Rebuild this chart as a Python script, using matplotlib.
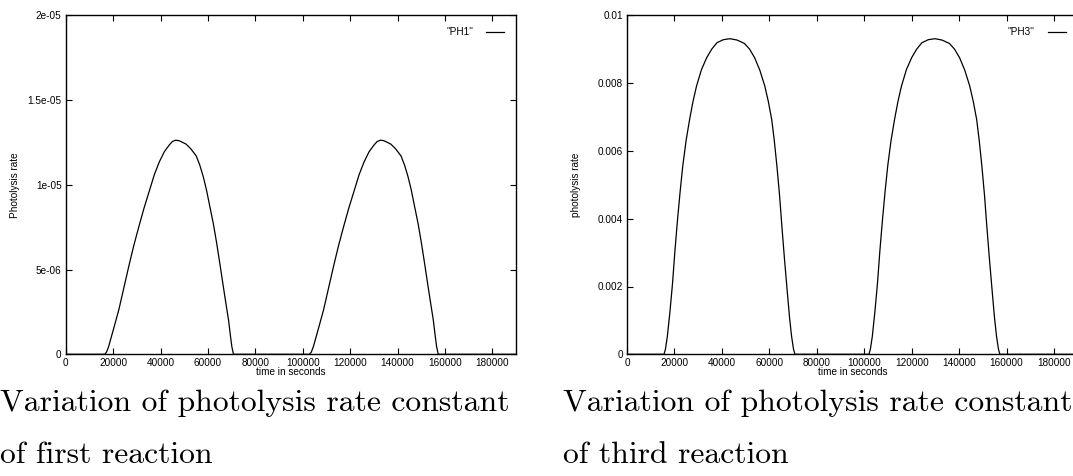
import matplotlib
matplotlib.use("Agg")
import matplotlib.pyplot as plt

# time in seconds, photolysis rates
t_ph1 = [0, 16400, 17200, 18100, 20200, 22400, 24500, 26600, 28700, 30900, 33000, 35200,
         37400, 39500, 41600, 43700, 45000, 46300, 47600, 48500, 50800, 52800, 55100,
         56600, 58000, 59400, 60800, 62300, 63700, 65100, 66500, 67600, 68700, 69500,
         70100, 70800,
         102800, 103600, 104500, 106600, 108800, 110900, 113000, 115100, 117300, 119400,
         121600, 123800, 125900, 128000, 130100, 131400, 132700, 134000, 134900, 137200,
         139200, 141500, 143000, 144400, 145800, 147200, 148700, 150100, 151500, 152900,
         154000, 155100, 155900, 156500, 157200, 190000]
ph1 = [0, 0, 0.12e-6, 0.45e-6, 1.5e-6, 2.62e-6, 3.9e-6, 5.18e-6, 6.4e-6, 7.55e-6, 8.6e-6, 9.6e-6,
       10.6e-6, 11.35e-6, 11.95e-6, 12.35e-6, 12.55e-6, 12.63e-6, 12.61e-6, 12.56e-6, 12.4e-6, 12.12e-6, 11.7e-6,
       11.15e-6, 10.5e-6, 9.7e-6, 8.73e-6, 7.7e-6, 6.56e-6, 5.3e-6, 4.0e-6, 3.0e-6, 2.03e-6, 1.1e-6,
       0.45e-6, 0,
       0, 0.12e-6, 0.45e-6, 1.5e-6, 2.62e-6, 3.9e-6, 5.18e-6, 6.4e-6, 7.55e-6, 8.6e-6,
       9.6e-6, 10.6e-6, 11.35e-6, 11.95e-6, 12.35e-6, 12.55e-6, 12.63e-6, 12.61e-6, 12.56e-6, 12.4e-6,
       12.12e-6, 11.7e-6, 11.15e-6, 10.5e-6, 9.7e-6, 8.73e-6, 7.7e-6, 6.56e-6, 5.3e-6, 4.0e-6,
       3.0e-6, 2.03e-6, 1.1e-6, 0.45e-6, 0, 0]

t_ph3 = [0, 15600, 16200, 17000, 18100, 19200, 20200, 21300, 22400, 23500, 24900, 26400,
         27800, 29300, 31400, 33600, 35700, 37900, 40600, 43400, 46400, 49500, 51700,
         53800, 56000, 58100, 59600, 61000, 62100, 63200, 64300, 65300, 66400, 67500,
         68500, 69400, 70200, 70800,
         102000, 102600, 103400, 104500, 105600, 106600, 107700, 108800, 109900, 111300,
         112800, 114200, 115700, 117800, 120000, 122100, 124300, 127000, 129800, 132800,
         135900, 138100, 140200, 142400, 144500, 146000, 147400, 148500, 149600, 150700,
         151700, 152800, 153900, 154900, 155800, 156600, 157200, 190000]
ph3 = [0, 0, 0.15e-3, 0.52e-3, 1.25e-3, 2.1e-3, 3.05e-3, 3.97e-3, 4.8e-3, 5.55e-3, 6.3e-3, 6.93e-3,
       7.45e-3, 7.91e-3, 8.4e-3, 8.75e-3, 9.0e-3, 9.19e-3, 9.28e-3, 9.31e-3, 9.27e-3, 9.17e-3, 9.0e-3,
       8.75e-3, 8.38e-3, 7.91e-3, 7.45e-3, 6.93e-3, 6.3e-3, 5.55e-3, 4.7e-3, 3.77e-3, 2.8e-3, 1.9e-3,
       1.1e-3, 0.52e-3, 0.15e-3, 0,
       0, 0.15e-3, 0.52e-3, 1.25e-3, 2.1e-3, 3.05e-3, 3.97e-3, 4.8e-3, 5.55e-3, 6.3e-3,
       6.93e-3, 7.45e-3, 7.91e-3, 8.4e-3, 8.75e-3, 9.0e-3, 9.19e-3, 9.28e-3, 9.31e-3, 9.27e-3,
       9.17e-3, 9.0e-3, 8.75e-3, 8.38e-3, 7.91e-3, 7.45e-3, 6.93e-3, 6.3e-3, 5.55e-3, 4.7e-3,
       3.77e-3, 2.8e-3, 1.9e-3, 1.1e-3, 0.52e-3, 0.15e-3, 0, 0]

x_ticks = [0, 20000, 40000, 60000, 80000, 100000, 120000, 140000, 160000, 180000]
ph1_ticks = [0, 5e-6, 1e-5, 1.5e-5, 2e-5]
ph1_labels = ["0", "5e-06", "1e-05", "1.5e-05", "2e-05"]
ph3_ticks = [0, 0.002, 0.004, 0.006, 0.008, 0.01]
ph3_labels = ["0", "0.002", "0.004", "0.006", "0.008", "0.01"]

W, H = 1073, 476
fig = plt.figure(figsize=(W / 100, H / 100), dpi=100)
sans = "Liberation Sans"
fs = 7.2


def panel(rect, t, y, yticks, ylabels, ylabel, key, right_ticks):
    ax = fig.add_axes(rect)
    ax.plot(t, y, color="black", lw=0.9, label=key)
    ax.set_xlim(0, 190000)
    ax.set_ylim(yticks[0], yticks[-1])
    ax.set_xticks(x_ticks)
    ax.set_xticklabels([str(v) for v in x_ticks], fontsize=fs, family=sans)
    ax.set_yticks(yticks)
    ax.set_yticklabels(ylabels, fontsize=fs, family=sans)
    ax.tick_params(direction="in", length=4, width=0.8, top=True, right=right_ticks, pad=3)
    for s in ax.spines.values():
        s.set_linewidth(1.0)
    ax.set_xlabel("time in seconds", fontsize=fs, family=sans, labelpad=-1)
    ax.set_ylabel(ylabel, fontsize=fs, family=sans)
    ax.yaxis.set_label_coords(-46 / 450, 0.5)
    ax.legend(loc="upper right", frameon=False, markerfirst=False,
              prop={"family": sans, "size": fs}, handlelength=1.8,
              handletextpad=1.3, borderaxespad=0.9, borderpad=0.3)
    return ax


panel([65.7 / W, 1 - 354.3 / H, (516 - 65.7) / W, (354.3 - 15.3) / H],
      t_ph1, ph1, ph1_ticks, ph1_labels, "Photolysis rate", '"PH1"', True)
panel([627 / W, 1 - 354.3 / H, (1077.7 - 627) / W, (354.3 - 15.3) / H],
      t_ph3, ph3, ph3_ticks, ph3_labels, "photolysis rate", '"PH3"', False)

cap = {"family": "cmr10", "size": 22.8}
fig.text(0 / W, 1 - 403 / H, "Variation of photolysis rate constant", va="center", ha="left", **cap)
fig.text(0 / W, 1 - 455 / H, "of first reaction", va="center", ha="left", **cap)
fig.text(563 / W, 1 - 403 / H, "Variation of photolysis rate constant", va="center", ha="left", **cap)
fig.text(563 / W, 1 - 455 / H, "of third reaction", va="center", ha="left", **cap)

fig.savefig("out.png", dpi=100)
